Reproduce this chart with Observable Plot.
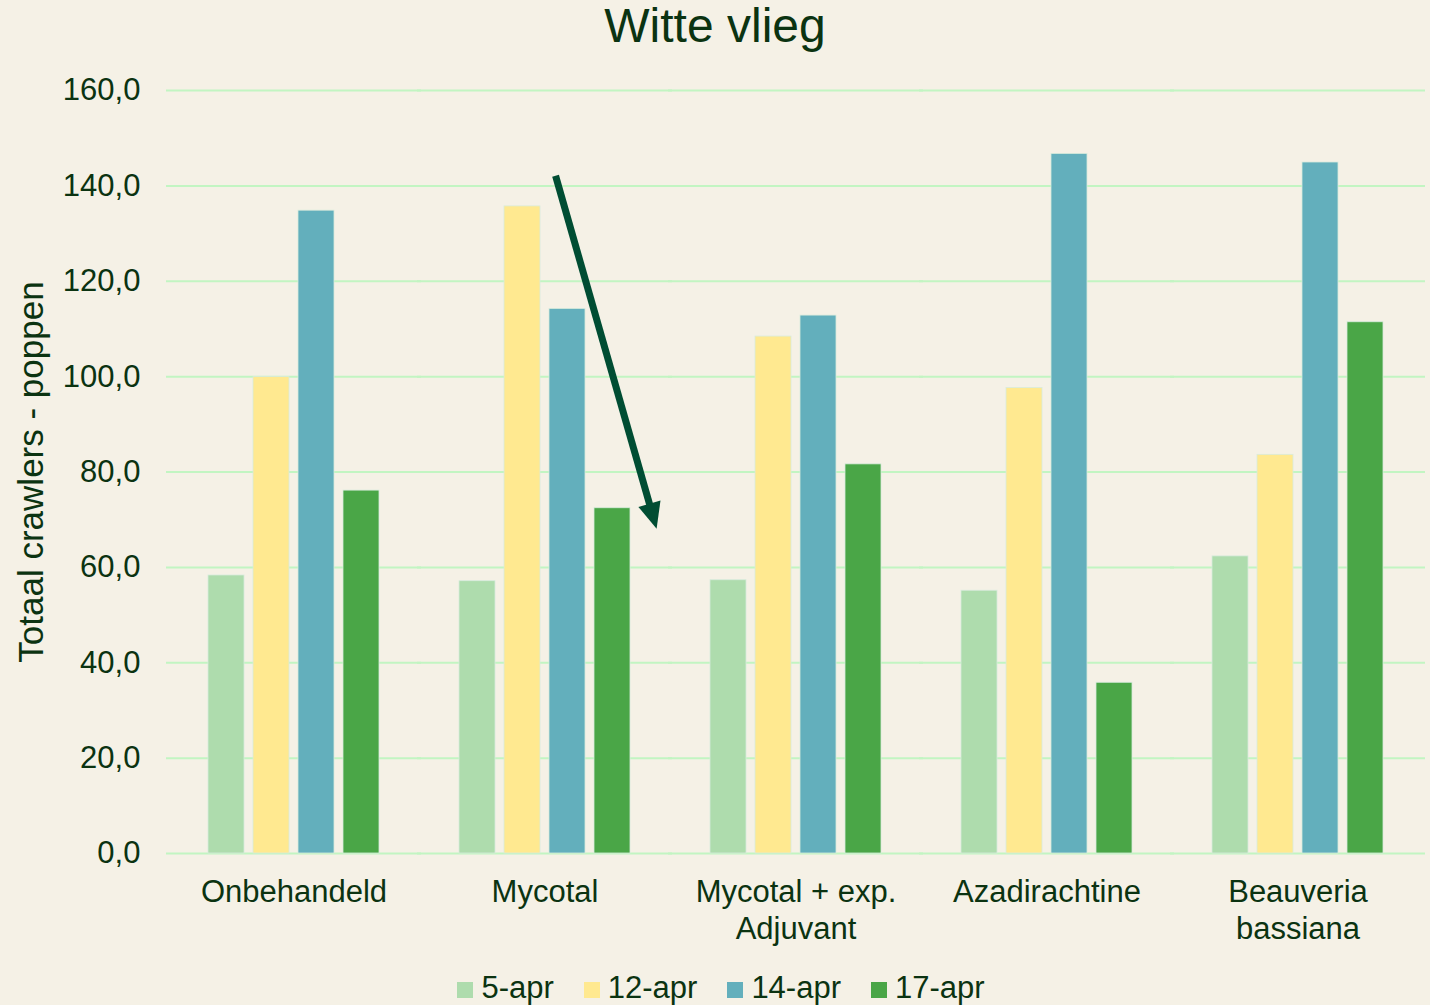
<!DOCTYPE html>
<html>
<head>
<meta charset="utf-8">
<script src="https://cdn.jsdelivr.net/npm/d3@7"></script>
<script src="https://cdn.jsdelivr.net/npm/@observablehq/plot@0.6"></script>
<style>
  html, body { margin: 0; padding: 0; background: #F5F1E6; }
  body { width: 1430px; height: 1005px; overflow: hidden; font-family: "Liberation Sans", Arial, sans-serif; color: #0B3311; }
  #title { height: 51px; line-height: 51px; font-size: 48px; text-align: center; }
  #chart svg { display: block; }
  #legend { display: flex; justify-content: center; align-items: baseline; font-size: 31px; line-height: 36px; padding-top: 17px; padding-left: 12px; }
  .item { display: flex; align-items: baseline; margin: 0 15px; }
  .sw { display: inline-block; width: 16px; height: 16px; margin-right: 8px; }
</style>
</head>
<body>
<div id="title"></div>
<div id="chart"></div>
<div id="legend"></div>
<script>
const title = "Witte vlieg";
const yLabel = "Totaal crawlers - poppen";
const categories = ["Onbehandeld", "Mycotal", "Mycotal + exp.\nAdjuvant", "Azadirachtine", "Beauveria\nbassiana"];
const series = ["5-apr", "12-apr", "14-apr", "17-apr"];
const colors = ["#AEDCAD", "#FFE990", "#63AFBC", "#4AA647"];
const v5apr  = [58.3, 57.1, 57.3, 55.1, 62.3];
const v12apr = [99.9, 135.7, 108.4, 97.6, 83.6];
const v14apr = [134.8, 114.2, 112.8, 146.7, 144.9];
const v17apr = [76.1, 72.4, 81.6, 35.8, 111.4];
const yTicks = [0, 20, 40, 60, 80, 100, 120, 140, 160];
// arrow annotation: category + fraction of group width, value on y axis
const arrowFrom = {category: "Mycotal", frac: 0.564, value: 142};
const arrowTo = {category: "Mycotal", frac: 1.148, value: 68};

const valuesBySeries = [v5apr, v12apr, v14apr, v17apr];
const data = [];
categories.forEach((c, i) => series.forEach((s, j) => data.push({category: c, series: s, value: valuesBySeries[j][i]})));

document.getElementById("title").textContent = title;

const textColor = "#0B3311";
const W = 1430, mL = 167, mR = 7;
const fxPadInner = 0.311, fxPadOuter = 0.1555;
// outer offset of the first group from the frame's left edge
const outerOffset = fxPadOuter * (W - mL - mR) / categories.length;
// gridlines are drawn per facet; extend each across the gap between groups
const gridExtend = Math.ceil(outerOffset) + 1;

const plot = Plot.plot({
  width: W,
  height: 902,
  marginTop: 39,
  marginBottom: 100,
  marginLeft: mL,
  marginRight: mR,
  style: {background: "transparent", fontFamily: "'Liberation Sans', Arial, sans-serif", color: textColor},
  fx: {domain: categories, paddingInner: fxPadInner, paddingOuter: fxPadOuter, label: null},
  x: {domain: series, paddingInner: 0.21, paddingOuter: 0, axis: null},
  y: {domain: [0, 160], label: null},
  color: {domain: series, range: colors},
  marks: [
    Plot.ruleY(yTicks, {stroke: "#C2F5C2", strokeWidth: 2, insetLeft: -gridExtend, insetRight: -gridExtend}),
    Plot.barY(data, {fx: "category", x: "series", y: "value", fill: "series", stroke: "#D8EBDD", strokeWidth: 0.8}),
    Plot.axisY({ticks: yTicks, tickSize: 0, tickPadding: 28 + outerOffset, fontSize: 31, label: null, fill: textColor,
      tickFormat: d => d.toFixed(1).replace(".", ",")}),
    Plot.axisFx({anchor: "bottom", tickSize: 0, tickPadding: 22, fontSize: 31, lineHeight: 1.2, label: null, fill: textColor}),
    Plot.text([yLabel], {frameAnchor: "left", rotate: -90, dx: -164.5, lineAnchor: "bottom", textAnchor: "middle", fontSize: 35, fill: textColor, facet: "super"})
  ]
});
document.getElementById("chart").appendChild(plot);

// arrow via the plot's own scales
const fx = plot.scale("fx");
const y = plot.scale("y");
const bw = fx.bandwidth;
const x1 = fx.apply(arrowFrom.category) + arrowFrom.frac * bw;
const x2 = fx.apply(arrowTo.category) + arrowTo.frac * bw;
const y1 = y.apply(arrowFrom.value);
const y2 = y.apply(arrowTo.value);
const dx = x2 - x1, dy = y2 - y1, len = Math.hypot(dx, dy);
const ux = dx / len, uy = dy / len;
const headLen = 26, headHalf = 11.5;
const bx = x2 - ux * headLen, by = y2 - uy * headLen;
const svg = d3.select(plot);
const g = svg.append("g").attr("fill", "#004D33").attr("stroke", "#004D33");
g.append("line").attr("x1", x1).attr("y1", y1).attr("x2", x2 - ux * 20).attr("y2", y2 - uy * 20).attr("stroke-width", 7);
g.append("polygon").attr("stroke", "none").attr("points", [
  [x2, y2], [bx - uy * headHalf, by + ux * headHalf], [bx + uy * headHalf, by - ux * headHalf]
].map(p => p.join(",")).join(" "));

const legend = document.getElementById("legend");
series.forEach((s, i) => {
  const it = document.createElement("span");
  it.className = "item";
  const sw = document.createElement("span");
  sw.className = "sw";
  sw.style.background = colors[i];
  it.appendChild(sw);
  it.appendChild(document.createTextNode(s));
  legend.appendChild(it);
});
</script>
</body>
</html>
